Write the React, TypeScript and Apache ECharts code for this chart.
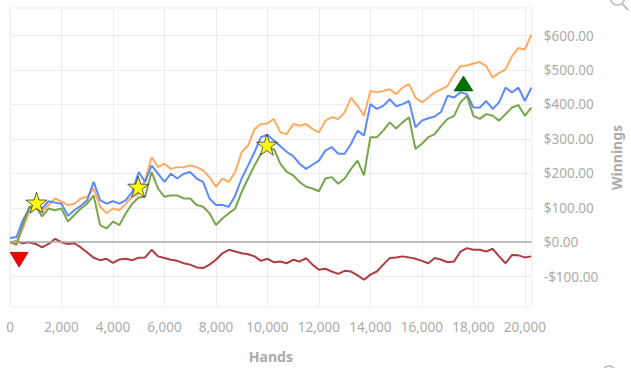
import React, { useEffect, useRef } from "react";
import * as echarts from "echarts";

const hands = [
  0, 250, 500, 750, 1000, 1250, 1500, 1750, 2000, 2250, 2500, 2750, 3000, 3250, 3500, 3750, 4000, 4250, 4500, 4750,
  5000, 5250, 5500, 5750, 6000, 6250, 6500, 6750, 7000, 7250, 7500, 7750, 8000, 8250, 8500, 8750, 9000, 9250, 9500, 9750,
  10000, 10250, 10500, 10750, 11000, 11250, 11500, 11750, 12000, 12250, 12500, 12750, 13000, 13250, 13500, 13750, 14000,
  14250, 14500, 14750, 15000, 15250, 15500, 15750, 16000, 16250, 16500, 16750, 17000, 17250, 17500, 17750, 18000, 18250,
  18500, 18750, 19000, 19250, 19500, 19750, 20000, 20250,
];

const orange = [
  -3, 2, 40, 88, 98, 89, 108, 127, 118, 108, 112, 127, 132, 156, 103, 84, 98, 93, 112, 132, 141,
  180, 247, 218, 228, 213, 218, 218, 223, 218, 209, 189, 161, 185, 175, 204, 262, 281, 329, 343, 345,
  358, 319, 314, 343, 338, 343, 329, 319, 353, 363, 358, 377, 420, 396, 367, 439, 435, 439, 444, 430,
  449, 459, 420, 406, 420, 435, 444, 454, 487, 511, 513, 519, 523, 511, 478, 492, 502, 540, 564, 559, 603,
];

const blue = [
  12, 15, 64, 98, 112, 98, 119, 115, 112, 77, 93, 106, 122, 175, 122, 112, 119, 112, 122, 146, 204,
  175, 223, 199, 175, 199, 185, 199, 204, 185, 175, 127, 108, 108, 103, 136, 185, 223, 262, 305, 312,
  295, 279, 262, 250, 228, 213, 225, 237, 266, 276, 257, 257, 286, 324, 310, 401, 387, 396, 415, 395,
  401, 410, 334, 353, 360, 365, 379, 425, 420, 435, 430, 391, 391, 410, 387, 406, 449, 435, 449, 410, 449,
];

const green = [
  2, -8, 50, 103, 103, 75, 98, 93, 98, 60, 79, 98, 112, 136, 50, 40, 60, 50, 84, 112, 130,
  132, 204, 156, 132, 136, 136, 127, 127, 108, 103, 84, 50, 69, 84, 98, 146, 185, 223, 257, 270,
  271, 228, 204, 194, 175, 161, 156, 148, 185, 189, 170, 185, 213, 237, 194, 305, 305, 324, 348, 330,
  348, 363, 271, 286, 305, 314, 338, 358, 367, 406, 425, 367, 358, 372, 367, 353, 372, 391, 398, 367, 391,
];

const red = [
  0, 3, -3, 0, -5, -15, -5, 10, 0, -5, -3, -15, -30, -45, -52, -48, -60, -50, -48, -52, -45,
  -44, -22, -41, -46, -51, -54, -61, -65, -73, -75, -65, -51, -32, -22, -27, -32, -35, -41, -54, -48,
  -58, -56, -61, -51, -56, -46, -65, -80, -77, -85, -92, -83, -85, -96, -109, -94, -85, -65, -46, -44,
  -41, -44, -48, -54, -61, -46, -51, -58, -56, -27, -17, -22, -22, -27, -19, -41, -61, -37, -38, -44, -41,
];

const stars: [number, number][] = [
  [1030, 115],
  [4980, 161],
  [9980, 283],
];
const upMarker: [number, number][] = [[17615, 461]];
const downMarker: [number, number][] = [[354, -51]];

const xTicks = [0, 2000, 4000, 6000, 8000, 10000, 12000, 14000, 16000, 18000, 20000];
const yTicks = [-100, 0, 100, 200, 300, 400, 500, 600];

const FONT = "Noto Sans";
const GREY = "#ababab";
const GRID = "#ededed";

function pairs(vals: number[]) {
  return hands.map((h, i) => [h, vals[i]]);
}

function fmtMoney(v: number) {
  const s = "$" + Math.abs(v).toFixed(2);
  return v < 0 ? "-" + s : s;
}

export default function App() {
  const ref = useRef<HTMLDivElement>(null);
  useEffect(() => {
    document.body.style.margin = "0";
    const chart = echarts.init(ref.current!, null, { renderer: "svg" });
    const lineSeries = (name: string, vals: number[], color: string, extra: any = {}) => ({
      name,
      type: "line",
      data: pairs(vals),
      showSymbol: false,
      symbol: "none",
      lineStyle: { color, width: 2, opacity: 0.9 },
      itemStyle: { color },
      silent: true,
      ...extra,
    });
    chart.setOption({
      animation: false,
      grid: {
        left: 10,
        right: 94,
        top: 8,
        bottom: 59,
        show: true,
        borderColor: GRID,
        borderWidth: 1,
      },
      xAxis: {
        type: "value",
        min: 0,
        max: 20270,
        interval: 2000,
        name: "Hands",
        nameLocation: "middle",
        nameGap: 42,
        nameTextStyle: { color: GREY, fontFamily: FONT, fontSize: 14, fontWeight: "bold" },
        axisLine: { show: false },
        axisTick: { show: true, length: 9, lineStyle: { color: GRID }, customValues: xTicks },
        axisLabel: {
          color: GREY,
          fontFamily: FONT,
          fontSize: 13.5,
          margin: 13,
          customValues: xTicks,
          formatter: (v: number) => v.toLocaleString("en-US"),
        },
        splitLine: { show: true, lineStyle: { color: GRID, width: 1 } },
      },
      yAxis: {
        type: "value",
        position: "right",
        min: -188,
        max: 680,
        splitNumber: 9,
        minInterval: 100,
        maxInterval: 100,
        name: "Winnings",
        nameLocation: "middle",
        nameGap: 76,
        nameTextStyle: { color: GREY, fontFamily: FONT, fontSize: 14, fontWeight: "bold" },
        axisLine: { show: false },
        axisTick: { show: true, length: 10, lineStyle: { color: GRID }, customValues: yTicks },
        axisLabel: {
          color: GREY,
          fontFamily: FONT,
          fontSize: 13.5,
          margin: 12,
          customValues: yTicks,
          formatter: (v: number) => fmtMoney(v),
        },
        splitLine: { show: true, lineStyle: { color: GRID, width: 1 } },
      },
      series: [
        lineSeries("Orange", orange, "#ffa24f"),
        lineSeries("Blue", blue, "#4a7cfb"),
        lineSeries("Green", green, "#6a9b3a"),
        lineSeries("Red", red, "#a3282b", {
          markLine: {
            silent: true,
            symbol: "none",
            label: { show: false },
            lineStyle: { color: "#aaaaaa", width: 1.5, type: "solid" },
            data: [{ yAxis: 0 }],
          },
          z: 1,
        }),
        {
          type: "scatter",
          data: stars,
          symbol: "path://M50,0 L61.8,35.4 L100,36.3 L69.1,58.8 L80.3,95.1 L50,73.5 L19.7,95.1 L30.9,58.8 L0,36.3 L38.2,35.4 Z",
          symbolSize: 21,
          itemStyle: { color: "#ffff00", borderColor: "#2d2d50", borderWidth: 0.8, opacity: 1 },
          z: 5,
          silent: true,
        },
        {
          type: "scatter",
          data: upMarker,
          symbol: "triangle",
          symbolSize: [19, 15],
          itemStyle: { color: "#007000", borderColor: "#004a00", borderWidth: 0.6, opacity: 1 },
          z: 5,
          silent: true,
        },
        {
          type: "scatter",
          data: downMarker,
          symbol: "triangle",
          symbolRotate: 180,
          symbolSize: [18, 15],
          itemStyle: { color: "#f00000", borderColor: "#8a0000", borderWidth: 0.6, opacity: 1 },
          z: 5,
          silent: true,
        },
      ],
      graphic: [
        { type: "circle", shape: { cx: 617.5, cy: -2, r: 7 }, style: { fill: "none", stroke: "#b5b5b5", lineWidth: 1.5 } },
        { type: "line", shape: { x1: 622.5, y1: 4, x2: 628, y2: 10 }, style: { stroke: "#b5b5b5", lineWidth: 1.8 } },
        { type: "circle", shape: { cx: 609, cy: 372, r: 6 }, style: { fill: "none", stroke: "#b5b5b5", lineWidth: 1.5 } },
      ],
    });
    return () => chart.dispose();
  }, []);
  return <div ref={ref} style={{ width: 631, height: 368 }} />;
}
